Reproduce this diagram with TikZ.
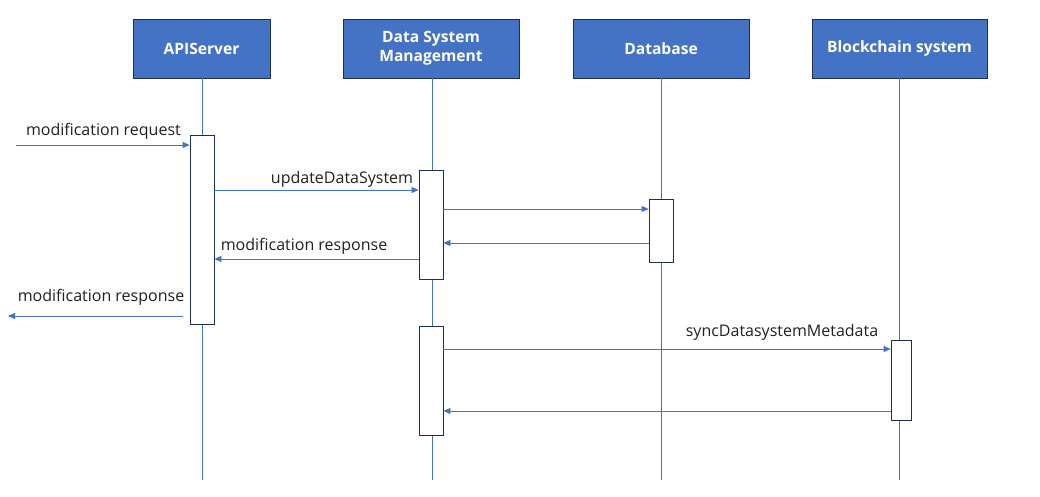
\documentclass[tikz,border=0pt]{standalone}
\usepackage{fontspec}
\setmainfont{Open Sans}
\usetikzlibrary{arrows.meta}
\definecolor{hdr}{HTML}{4472C4}
\definecolor{navy}{HTML}{1F2F4F}
\definecolor{txt}{HTML}{202020}
\begin{document}
\begin{tikzpicture}[x=1pt,y=-1pt,
  header/.style={draw=navy, fill=hdr, text=white, font=\bfseries\fontsize{15.6}{19}\selectfont,
    minimum height=59pt, align=center, inner sep=0pt, line width=0.8pt},
  lifeline/.style={draw=hdr, line width=0.8pt},
  act/.style={draw=navy, fill=white, minimum width=24pt, inner sep=0pt, line width=0.8pt},
  msg/.style={draw=hdr, line width=0.8pt, -{Triangle[length=7pt,width=6pt]}},
  lbl/.style={text=txt, font=\fontsize{16}{19}\selectfont, inner sep=0pt}]
\useasboundingbox (0,0) rectangle (1040,496);
% headers
\node[header, minimum width=137pt] (api) at (201.5,48.5) {APIServer};
\node[header, minimum width=176pt] (dsm) at (431,48.5) {Data System\\Management};
\node[header, minimum width=176pt] (db) at (661,48.5) {Database};
\node[header, minimum width=175pt] (bc) at (899.5,48.5) {Blockchain system};
% lifelines
\coordinate (apiend) at (202,480);
\coordinate (dsmend) at (432,480);
\coordinate (dbend) at (661,480);
\coordinate (bcend) at (899,480);
\draw[lifeline] (api.south -| apiend) -- (apiend);
\draw[lifeline] (dsm.south -| dsmend) -- (dsmend);
\draw[lifeline] (db.south -| dbend) -- (dbend);
\draw[lifeline] (bc.south -| bcend) -- (bcend);
% activations
\node[act, minimum height=189pt] (a1) at (202,229.5) {};
\node[act, minimum height=109pt] (d1) at (431,224.5) {};
\node[act, minimum height=63pt] (db1) at (661,230.5) {};
\node[act, minimum height=109pt] (d2) at (431,380.5) {};
\node[act, minimum height=80pt, minimum width=20pt] (b1) at (901,380) {};
% messages
\coordinate (reqs) at (16,145);
\draw[msg] (reqs) -- (a1.west |- reqs);
\node[lbl, anchor=east] (reql) at (181,131) {modification request};

\coordinate (upd) at (0,190);
\draw[msg] (a1.east |- upd) -- (d1.west |- upd);
\node[lbl] (updl) at (342,179) {updateDataSystem};

\coordinate (q1) at (0,209);
\draw[msg] (d1.east |- q1) -- (db1.west |- q1);
\coordinate (q2) at (0,243);
\draw[msg] (db1.west |- q2) -- (d1.east |- q2);

\coordinate (r1) at (0,259);
\draw[msg] (d1.west |- r1) -- (a1.east |- r1);
\node[lbl] (r1l) at (304,246) {modification response};

\coordinate (outs) at (183,316);
\coordinate (oute) at (8,316);
\draw[msg] (outs) -- (oute);
\node[lbl] (outl) at (101,297) {modification response};

\coordinate (s1) at (0,349);
\draw[msg] (d2.east |- s1) -- (b1.west |- s1);
\node[lbl] (s1l) at (782,332) {syncDatasystemMetadata};
\coordinate (s2) at (0,411);
\draw[msg] (b1.west |- s2) -- (d2.east |- s2);
\end{tikzpicture}
\end{document}
